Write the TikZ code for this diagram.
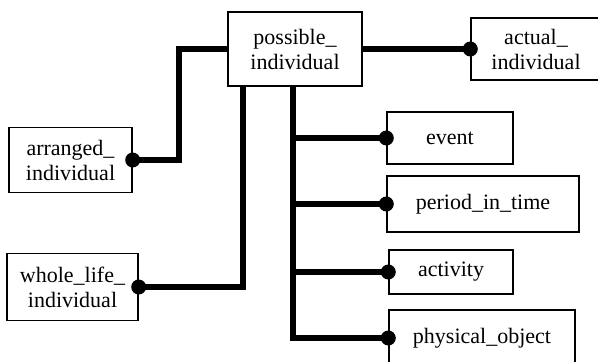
\documentclass[tikz,border=0pt]{standalone}
\usepackage{fontspec}
\setmainfont{Liberation Serif}
\begin{document}
\begin{tikzpicture}[x=1pt,y=1pt,
  box/.style={draw, line width=1.4pt, align=center, inner sep=0pt, font=\fontsize{22}{25}\selectfont},
  link/.style={line width=6pt, line join=miter},
  dotr/.style={radius=7.5pt}]
\useasboundingbox (0,0) rectangle (598,362);
\clip (0,0) rectangle (598,362);
\node[box, minimum width=134pt, minimum height=74pt] (pos) at (295,313) {possible\_\\individual};
\node[box, minimum width=130pt, minimum height=62pt] (act) at (536,313) {actual\_\\individual};
\node[box, minimum width=123pt, minimum height=65pt] (arr) at (70.5,202) {arranged\_\\individual};
\node[box, minimum width=131pt, minimum height=67pt] (whl) at (72.5,75) {whole\_life\_\\individual};
\node[box, minimum width=126pt, minimum height=52pt] (ev) at (450,224) {event};
\node[box, minimum width=192pt, minimum height=56pt] (per) at (483,158) {period\_in\_time};
\node[box, minimum width=124pt, minimum height=44pt] (actv) at (451,90) {activity};
\node[box, minimum width=186pt, minimum height=56pt] (phy) at (482,24) {physical\_object};
\coordinate (ta) at (243,276);
\coordinate (tb) at (293,276);
% links
\draw[link] (pos.west) -- ++(-48,0) |- (arr.east);
\draw[link] (pos.east) -- (act.west);
\draw[link] (ta) |- (whl.east);
\draw[link] (tb) |- (phy.west);
\draw[link] (tb |- ev.west) -- (ev.west);
\draw[link] (tb |- per.west) -- (per.west);
\draw[link] (tb |- actv.west) -- (actv.west);
% dots
\fill (arr.east) circle[dotr];
\fill (whl.east) circle[dotr];
\fill (act.west) circle[dotr];
\fill (ev.west) circle[dotr];
\fill (per.west) circle[dotr];
\fill (actv.west) circle[dotr];
\fill (phy.west) circle[dotr];
\end{tikzpicture}
\end{document}
